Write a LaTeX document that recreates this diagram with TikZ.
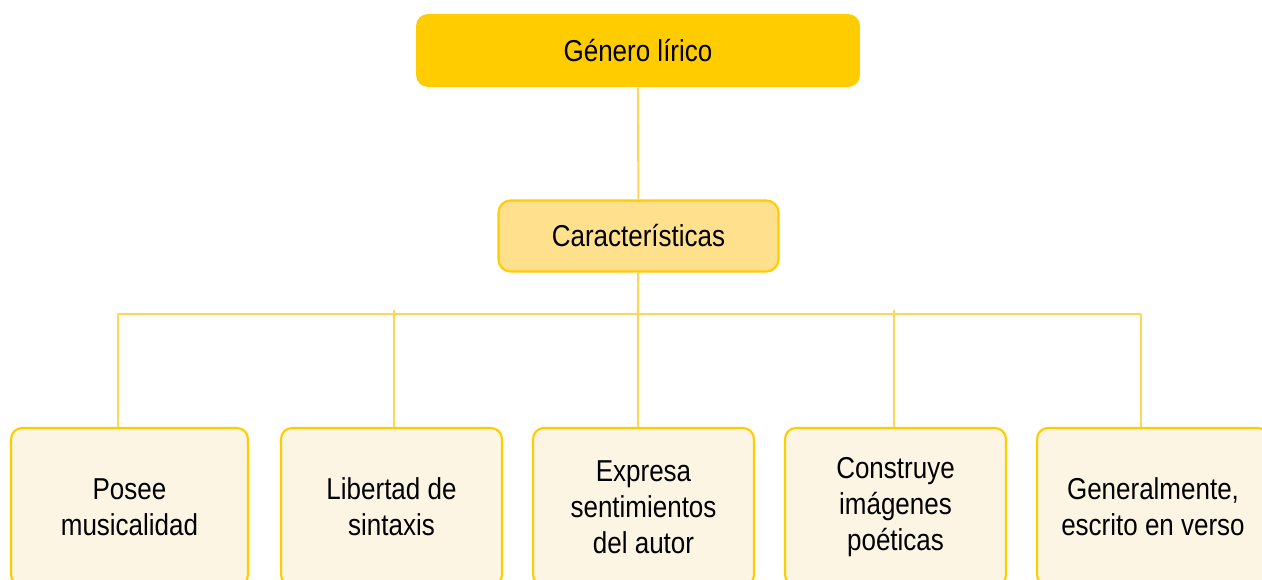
\documentclass[tikz,border=0pt]{standalone}
\usepackage{fontspec}
\setmainfont[FakeStretch=0.86]{Liberation Sans}
\usepackage{tikz}
\usetikzlibrary{positioning,calc}
\usepackage{xcolor}
\definecolor{amarillo}{HTML}{FFCC00}
\definecolor{amarilloclaro}{HTML}{FFE08C}
\definecolor{crema}{HTML}{FDF5E3}
\definecolor{linea}{HTML}{FFD757}

\tikzset{
  titulo/.style={fill=amarillo, rounded corners=0.24cm, minimum width=8.88cm, minimum height=1.46cm},
  subtitulo/.style={fill=amarilloclaro, draw=amarillo, line width=1.2pt, rounded corners=0.24cm, minimum width=5.6cm, minimum height=1.42cm},
  caja/.style={fill=crema, draw=amarillo, line width=1.2pt, rounded corners=0.22cm, minimum height=3.16cm, align=center},
  conector/.style={draw=linea, line width=1.2pt}
}

\begin{document}
\begin{tikzpicture}[x=0.02cm, y=-0.02cm, font=\fontsize{17.2}{20.5}\selectfont]
            \clip (0,0) rectangle (1262,580);
            \fill[white] (0,0) rectangle (1262,580);
            % main boxes
            \node[titulo] (genero) at (638,50.5) {Género lírico};
            \node[subtitulo] (carac) at (638.5,236) {Características};
            % bottom row
            \node[caja, minimum width=4.74cm] (musica) at (129.5,507) {Posee\\musicalidad};
            \node[caja, minimum width=4.42cm] (sintaxis) at (391.5,507) {Libertad de\\sintaxis};
            \node[caja, minimum width=4.42cm] (sentir) at (643.5,507) {Expresa\\sentimientos\\del autor};
            \node[caja, minimum width=4.42cm] (imagen) at (895.5,507) {Construye\\imágenes\\poéticas};
            \node[caja, minimum width=4.64cm] (verso) at (1153,507) {Generalmente,\\escrito en verso};
            % bus points
            \coordinate (barra) at (638,314);
            \coordinate (b1) at (118,314);
            \coordinate (b2) at (394,310);
            \coordinate (b4) at (894,310);
            \coordinate (b5) at (1141,314);
            % connectors
            \draw[conector] (genero) -- (carac);
            \draw[conector] (carac) -- (barra);
            \draw[conector] (b1) -- (b5);
            \draw[conector] (b1) -- (b1 |- musica.north);
            \draw[conector] (b2) -- (b2 |- sintaxis.north);
            \draw[conector] (barra) -- (barra |- sentir.north);
            \draw[conector] (b4) -- (b4 |- imagen.north);
            \draw[conector] (b5) -- (b5 |- verso.north);
        \end{tikzpicture}
\end{document}
